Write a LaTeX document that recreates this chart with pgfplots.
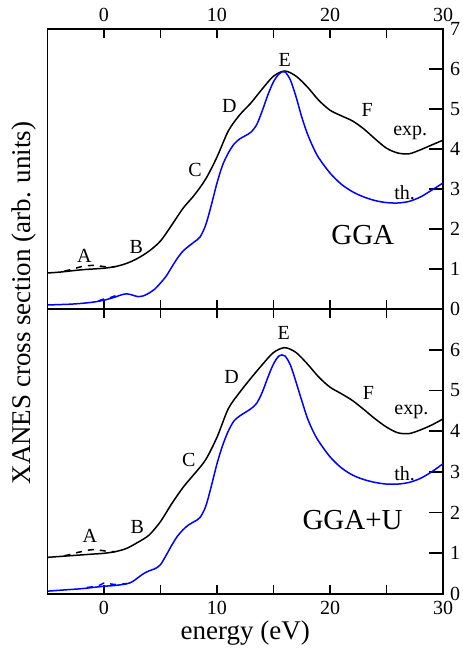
\documentclass[border=0pt]{standalone}
\usepackage{fontspec}
\setmainfont{Liberation Serif}
\usepackage{pgfplots}
\pgfplotsset{compat=1.18}

\pgfplotsset{
  xanes/.style={
    scale only axis,
    width=197.75pt,
    xmin=-5, xmax=30,
    ymin=0, ymax=7,
    axis line style={line width=0.8pt},
    every tick/.style={black, line width=0.8pt},
    major tick length=4.5pt,
    y tick style={/pgfplots/major tick length=7pt},
    xtick={0,5,...,30},
    xticklabels={\textrm{0},,\textrm{10},,\textrm{20},,\textrm{30}},
    ytick pos=right,
    yticklabel pos=right,
    tick label style={font=\fontsize{10}{12}\selectfont},
    label style={font=\fontsize{13.5}{16}\selectfont},
    every axis plot/.append style={line width=0.75pt, smooth},
  },
}
\tikzset{
  lbl/.style={font=\fontsize{10}{12}\selectfont},
  big/.style={font=\fontsize{14.5}{17}\selectfont},
}

\begin{document}
\begin{tikzpicture}
\useasboundingbox (-23.75pt,-171pt) rectangle (207.25pt,154.5pt);

% top panel: GGA
\begin{axis}[xanes,
  name=top, at={(0,0)}, anchor=south west,
  height=140pt,
  xticklabel pos=top,
  ytick={0,...,7},
  yticklabels={\textrm{0},\textrm{1},\textrm{2},\textrm{3},\textrm{4},\textrm{5},\textrm{6},\textrm{7}},
  ylabel={XANES cross section (arb. units)},
  ylabel style={at={(axis description cs:-0.06,0.0214)}, anchor=center},
]
\addplot[black] coordinates {
(-5,0.90) (-4,0.92) (-3,0.95) (-2,0.98) (-1,1.00) (0,1.02) (1,1.06) (2,1.14)
(3,1.27) (4,1.45) (5,1.70) (6,2.10) (7,2.52) (8,2.85) (9,3.25) (10,3.80)
(11,4.45) (12,4.85) (13,5.15) (14,5.50) (15,5.82) (16,5.95) (17,5.82) (18,5.55)
(19,5.22) (20,4.97) (21,4.83) (22,4.70) (23,4.50) (24,4.25) (25,4.02) (26,3.90)
(27,3.88) (28,3.98) (29,4.10) (30,4.22)
};
\addplot[black, dashed] coordinates {
(-3.5,0.95) (-3,0.98) (-2.5,1.02) (-2,1.06) (-1.5,1.08) (-1,1.09) (-0.5,1.08)
(0,1.06) (0.5,1.05) (1,1.06)
};
\addplot[blue] coordinates {
(-5,0.10) (-4,0.11) (-3,0.12) (-2,0.14) (-1,0.17) (0,0.22) (1,0.30) (1.5,0.35)
(2,0.38) (2.5,0.35) (3,0.31) (3.5,0.33) (4,0.40) (4.5,0.50) (5,0.65) (5.5,0.82)
(6,1.05) (6.5,1.27) (7,1.45) (7.5,1.57) (8,1.68) (8.5,1.80) (9,2.10) (9.5,2.60)
(10,3.15) (10.5,3.60) (11,3.90) (11.5,4.12) (12,4.25) (12.5,4.33) (13,4.42)
(13.5,4.60) (14,4.95) (14.5,5.35) (15,5.68) (15.5,5.88) (16,5.93) (16.5,5.72)
(17,5.30) (17.5,4.80) (18,4.38) (18.5,4.05) (19,3.78) (20,3.40) (21,3.12)
(22,2.93) (23,2.80) (24,2.71) (25,2.66) (26,2.65) (27,2.69) (28,2.80) (29,2.97)
(30,3.15)
};
\addplot[blue, dashed] coordinates {
(-0.5,0.20) (0,0.25) (0.5,0.28) (1,0.33) (1.5,0.37)
};
\node[lbl] at (axis cs:-1.75,1.33) {A};
\node[lbl] at (axis cs:2.85,1.54) {B};
\node[lbl] at (axis cs:8.05,3.48) {C};
\node[lbl] at (axis cs:11.1,5.07) {D};
\node[lbl] at (axis cs:16,6.23) {E};
\node[lbl] at (axis cs:23.3,4.98) {F};
\node[lbl] at (axis cs:27.1,4.40) {exp.};
\node[lbl] at (axis cs:26.6,2.90) {th.};
\node[big] at (axis cs:22.9,1.85) {GGA};
\end{axis}

% bottom panel: GGA+U
\begin{axis}[xanes,
  name=bottom, at={(0,0)}, anchor=north west,
  height=142.5pt,
  xticklabel pos=bottom,
  ytick={0,...,6},
  yticklabels={\textrm{0},\textrm{1},\textrm{2},\textrm{3},\textrm{4},\textrm{5},\textrm{6}},
  xlabel={energy (eV)},
  xlabel style={at={(axis description cs:0.5,-0.137)}, anchor=center},
]
\addplot[black] coordinates {
(-5,0.90) (-4,0.92) (-3,0.94) (-2,0.96) (-1,0.98) (0,1.00) (1,1.04) (2,1.12)
(3,1.27) (4,1.45) (5,1.78) (6,2.22) (7,2.62) (8,2.95) (9,3.30) (10,3.85)
(11,4.55) (12,4.95) (13,5.30) (14,5.63) (15,5.93) (16,6.05) (17,5.93) (18,5.65)
(19,5.33) (20,5.08) (21,4.92) (22,4.75) (23,4.53) (24,4.30) (25,4.10) (26,3.96)
(27,3.94) (28,4.03) (29,4.15) (30,4.30)
};
\addplot[black, dashed] coordinates {
(-3.5,0.94) (-3,0.97) (-2.5,1.01) (-2,1.04) (-1.5,1.07) (-1,1.09) (-0.5,1.08)
(0,1.06) (0.5,1.04) (1,1.04)
};
\addplot[blue] coordinates {
(-5,0.07) (-4,0.09) (-3,0.11) (-2,0.13) (-1,0.16) (0,0.19) (1,0.21) (2,0.25)
(2.5,0.30) (3,0.40) (3.5,0.50) (4,0.57) (4.5,0.62) (5,0.72) (5.5,0.95) (6,1.20)
(6.5,1.42) (7,1.58) (7.5,1.70) (8,1.78) (8.5,1.88) (9,2.15) (9.5,2.65) (10,3.20)
(10.5,3.65) (11,4.00) (11.5,4.25) (12,4.37) (12.5,4.46) (13,4.55) (13.5,4.68)
(14,4.95) (14.5,5.32) (15,5.65) (15.5,5.85) (16,5.85) (16.5,5.62) (17,5.20)
(17.5,4.75) (18,4.32) (18.5,4.00) (19,3.75) (20,3.37) (21,3.10) (22,2.92)
(23,2.81) (24,2.74) (25,2.70) (26,2.70) (27,2.74) (28,2.84) (29,3.00) (30,3.20)
};
\addplot[blue, dashed] coordinates {
(-1.5,0.16) (-0.5,0.20) (0,0.27) (0.5,0.25) (1.2,0.23) (2,0.26)
};
\node[lbl] at (axis cs:-1.25,1.42) {A};
\node[lbl] at (axis cs:2.95,1.65) {B};
\node[lbl] at (axis cs:7.5,3.28) {C};
\node[lbl] at (axis cs:11.3,5.32) {D};
\node[lbl] at (axis cs:15.9,6.40) {E};
\node[lbl] at (axis cs:23.4,4.95) {F};
\node[lbl] at (axis cs:27.2,4.46) {exp.};
\node[lbl] at (axis cs:26.6,2.96) {th.};
\node[big] at (axis cs:22,1.81) {GGA+U};
\end{axis}
\end{tikzpicture}
\end{document}
